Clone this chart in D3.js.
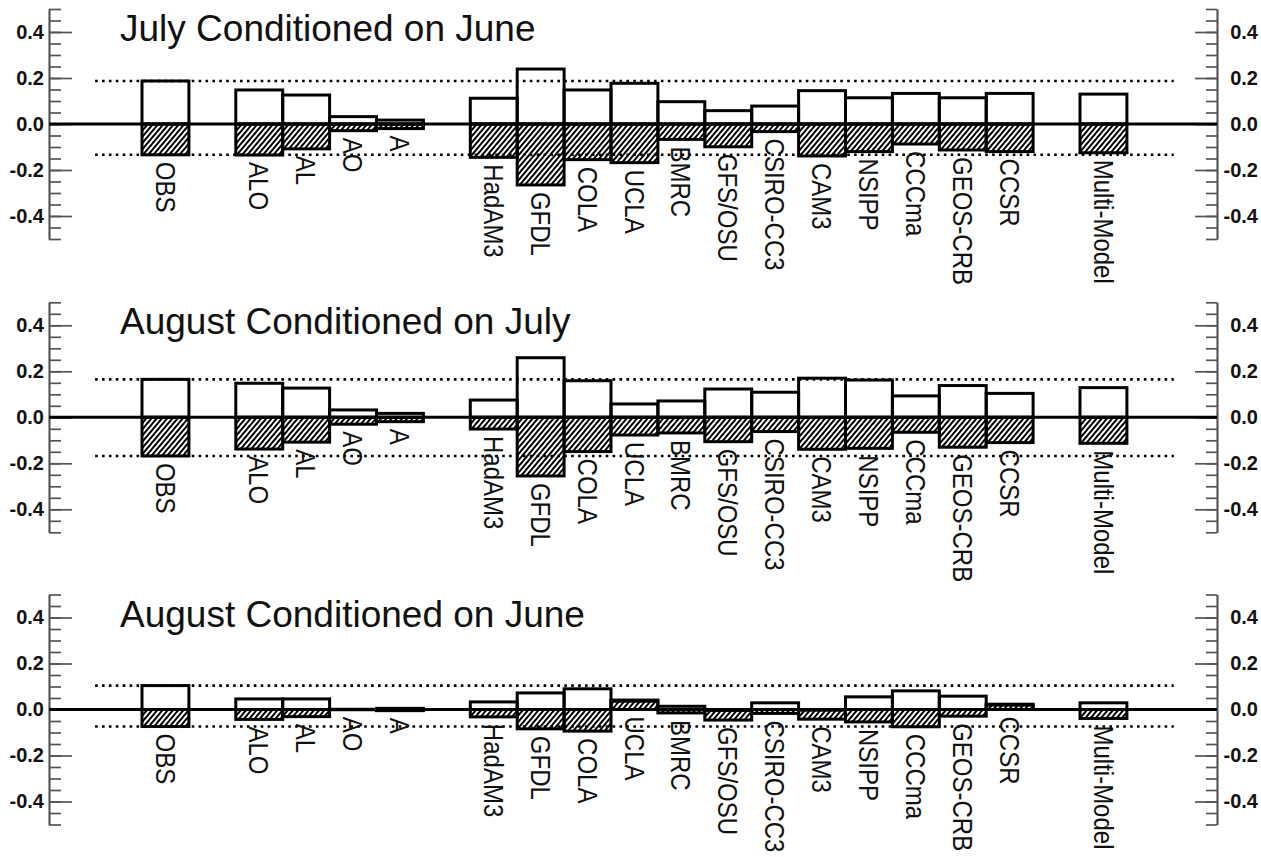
<!DOCTYPE html>
<html>
<head>
<meta charset="utf-8">
<script src="https://cdn.jsdelivr.net/npm/d3@7"></script>
<style>
  html, body { margin: 0; padding: 0; background: #fff; }
  svg { display: block; }
</style>
</head>
<body>
<svg id="chart" width="1261" height="857"></svg>
<script>
// Slot categories along the x axis (blank slots separate the groups)
const categories = ["", "OBS", "", "ALO", "AL", "AO", "A", "",
  "HadAM3", "GFDL", "COLA", "UCLA", "BMRC", "GFS/OSU", "CSIRO-CC3",
  "CAM3", "NSIPP", "CCCma", "GEOS-CRB", "CCSR", "", "Multi-Model", ""];

const panelTitles = ["July Conditioned on June", "August Conditioned on July", "August Conditioned on June"];

// Open (outlined) bars, one value per slot
const julyJuneOpen = [null, 0.187, null, 0.148, 0.126, 0.032, 0.017, null,
  0.112, 0.239, 0.148, 0.177, 0.097, 0.058, 0.078, 0.145, 0.114, 0.133, 0.114, 0.133, null, 0.130, null];
// Hatched bars
const julyJuneHatched = [null, -0.134, null, -0.135, -0.108, -0.029, -0.020, null,
  -0.145, -0.265, -0.155, -0.168, -0.067, -0.099, -0.033, -0.139, -0.120, -0.087, -0.113, -0.120, null, -0.125, null];

const augJulyOpen = [null, 0.165, null, 0.148, 0.127, 0.032, 0.017, null,
  0.075, 0.259, 0.159, 0.058, 0.071, 0.123, 0.109, 0.170, 0.162, 0.093, 0.138, 0.104, null, 0.129, null];
const augJulyHatched = [null, -0.168, null, -0.138, -0.108, -0.030, -0.019, null,
  -0.051, -0.255, -0.149, -0.077, -0.068, -0.106, -0.062, -0.139, -0.135, -0.065, -0.130, -0.110, null, -0.113, null];

const augJuneOpen = [null, 0.104, null, 0.046, 0.046, 0.001, 0.005, null,
  0.033, 0.072, 0.090, 0.041, 0.014, -0.004, 0.029, -0.003, 0.055, 0.081, 0.058, 0.023, null, 0.029, null];
const augJuneHatched = [null, -0.074, null, -0.043, -0.031, -0.001, -0.005, null,
  -0.032, -0.084, -0.094, 0.036, -0.015, -0.046, -0.017, -0.042, -0.054, -0.075, -0.029, 0.019, null, -0.039, null];

const majorTicks = [-0.4, -0.2, 0.0, 0.2, 0.4];
const minorTicks = d3.range(-10, 11).map(i => i * 0.05);

const panels = [
  { title: panelTitles[0], open: julyJuneOpen, hatched: julyJuneHatched },
  { title: panelTitles[1], open: augJulyOpen, hatched: augJulyHatched },
  { title: panelTitles[2], open: augJuneOpen, hatched: augJuneHatched }
];

const FONT = "'Liberation Sans', Arial, Helvetica, sans-serif";
const svg = d3.select("#chart");

// Diagonal hatch fill
const defs = svg.append("defs");
defs.append("pattern")
  .attr("id", "hatch")
  .attr("patternUnits", "userSpaceOnUse")
  .attr("width", 4)
  .attr("height", 10)
  .attr("patternTransform", "rotate(40)")
  .append("line")
  .attr("x1", 1).attr("y1", -2).attr("x2", 1).attr("y2", 12)
  .attr("stroke", "#000")
  .attr("stroke-width", 2);

const axisLeftX = 49, axisRightX = 1217;
const panelTops = [9, 302.3, 594.5];
const panelHeight = 230;

const x = d3.scaleBand()
  .domain(d3.range(categories.length))
  .range([95.1, 1173.8])
  .paddingInner(0).paddingOuter(0);

const fmt = v => (Math.abs(v) < 1e-9 ? 0 : v).toFixed(1);

function styleAxis(a) {
  a.select(".domain").attr("stroke", "#555").attr("stroke-width", 1.7);
  a.selectAll(".tick line").attr("stroke", "#555").attr("stroke-width", 1.7);
  a.selectAll(".tick text")
    .attr("fill", "#111")
    .style("font-family", FONT)
    .style("font-size", "20px")
    .style("font-weight", "bold");
  return a;
}

panels.forEach((p, pi) => {
  const top = panelTops[pi];
  const y = d3.scaleLinear().domain([-0.5, 0.5]).range([top + panelHeight, top]);
  const g = svg.append("g");

  // Left and right axes: ticks point inward, labels outside
  const leftMinor = d3.axisLeft(y).tickValues(minorTicks).tickSizeInner(-12).tickSizeOuter(0).tickFormat("");
  const leftMajor = d3.axisLeft(y).tickValues(majorTicks).tickSizeInner(-23).tickSizeOuter(0).tickPadding(5).tickFormat(fmt);
  const rightMinor = d3.axisRight(y).tickValues(minorTicks).tickSizeInner(-11).tickSizeOuter(0).tickFormat("");
  const rightMajor = d3.axisRight(y).tickValues(majorTicks).tickSizeInner(-22).tickSizeOuter(0).tickPadding(12).tickFormat(fmt);

  styleAxis(g.append("g").attr("transform", `translate(${axisLeftX},0)`).call(leftMinor));
  styleAxis(g.append("g").attr("transform", `translate(${axisLeftX},0)`).call(leftMajor));
  styleAxis(g.append("g").attr("transform", `translate(${axisRightX},0)`).call(rightMinor));
  const rAxis = styleAxis(g.append("g").attr("transform", `translate(${axisRightX},0)`).call(rightMajor));
  // Right-hand labels sit flush with the right edge
  rAxis.selectAll(".tick text").attr("text-anchor", "end").attr("x", 41);

  // Title
  g.append("text")
    .attr("x", 120)
    .attr("y", top + 32)
    .style("font-family", FONT)
    .style("font-size", "37px")
    .attr("fill", "#111")
    .text(p.title);

  const idx = d3.range(categories.length).filter(i => p.open[i] !== null);

  // Hatched bars
  g.selectAll("rect.hatched")
    .data(idx)
    .join("rect")
    .attr("class", "hatched")
    .attr("x", i => x(i))
    .attr("width", x.bandwidth())
    .attr("y", i => y(Math.max(0, p.hatched[i])))
    .attr("height", i => Math.abs(y(p.hatched[i]) - y(0)))
    .attr("fill", "url(#hatch)")
    .attr("stroke", "#000")
    .attr("stroke-width", 3);

  // Open bars
  g.selectAll("rect.open")
    .data(idx)
    .join("rect")
    .attr("class", "open")
    .attr("x", i => x(i))
    .attr("width", x.bandwidth())
    .attr("y", i => y(Math.max(0, p.open[i])))
    .attr("height", i => Math.abs(y(p.open[i]) - y(0)))
    .attr("fill", "none")
    .attr("stroke", "#000")
    .attr("stroke-width", 3);

  // Zero line
  g.append("line")
    .attr("x1", axisLeftX).attr("x2", axisRightX)
    .attr("y1", y(0)).attr("y2", y(0))
    .attr("stroke", "#000").attr("stroke-width", 3);

  // Reference lines at the observed values
  const obs = categories.indexOf("OBS");
  [p.open[obs], p.hatched[obs]].forEach(v => {
    g.append("line")
      .attr("x1", x(0)).attr("x2", x(categories.length - 1) + x.bandwidth())
      .attr("y1", y(v)).attr("y2", y(v))
      .attr("stroke", "#000")
      .attr("stroke-width", 2.6)
      .attr("stroke-dasharray", "2.6,4.3");
  });

  // Vertical category labels under each bar
  g.selectAll("text.cat")
    .data(idx)
    .join("text")
    .attr("class", "cat")
    .attr("transform", i => {
      const cx = x(i) + x.bandwidth() / 2;
      const ly = y(Math.min(0, p.open[i], p.hatched[i])) + 7;
      return `translate(${cx},${ly}) rotate(90) scale(1,1.15)`;
    })
    .attr("dy", "0.36em")
    .style("font-family", FONT)
    .style("font-size", "24px")
    .attr("fill", "#111")
    .text(i => categories[i]);
});
</script>
</body>
</html>
